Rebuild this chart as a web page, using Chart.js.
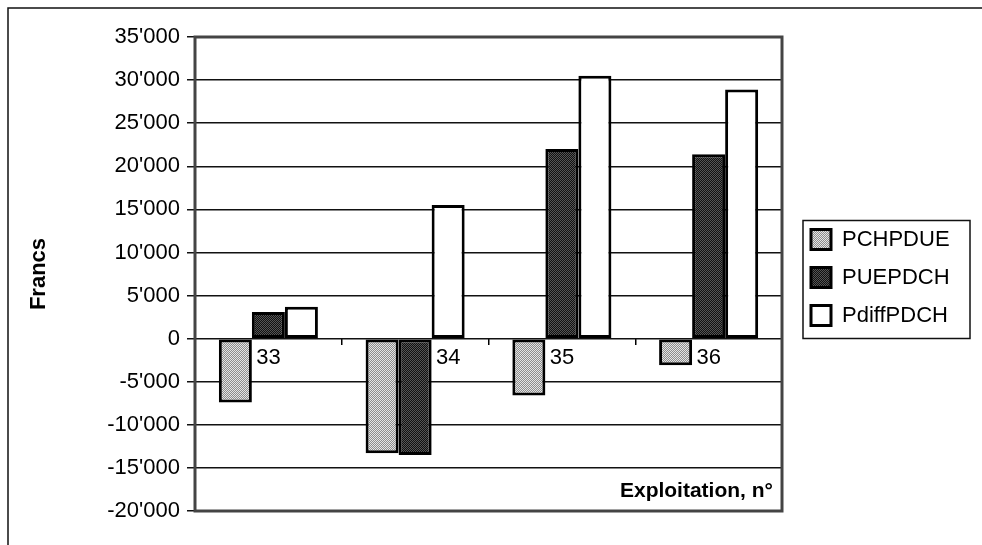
<!DOCTYPE html>
<html>
<head>
<meta charset="utf-8">
<script src="https://cdn.jsdelivr.net/npm/chart.js@4.4.1/dist/chart.umd.min.js"></script>
<style>
  body { margin: 0; background: #fff; }
  #wrap { width: 982px; height: 545px; position: relative; }
</style>
</head>
<body>
<div id="wrap"><canvas id="chart"></canvas></div>
<script>
// data
const categories = ['33', '34', '35', '36'];
const pchpdue = [-7400, -13300, -6600, -3100];
const puepdch = [3100, -13500, 22000, 21400];
const pdiffpdch = [3700, 15500, 30500, 28900];
const seriesNames = ['PCHPDUE', 'PUEPDCH', 'PdiffPDCH'];

const FONT = "'Liberation Sans', Arial, sans-serif";

// little 2x2 dither tiles, like the old printer fills
function dither(a, b) {
  const c = document.createElement('canvas');
  c.width = 2; c.height = 2;
  const g = c.getContext('2d');
  g.fillStyle = a; g.fillRect(0, 0, 2, 2);
  g.fillStyle = b; g.fillRect(0, 0, 1, 1); g.fillRect(1, 1, 1, 1);
  return g.createPattern(c, 'repeat');
}

function swiss(v) {
  const s = Math.abs(v).toString().replace(/\B(?=(\d{3})+(?!\d))/g, "'");
  return (v < 0 ? '-' : '') + s;
}

// legend is forced to a fixed width and nudged, then boxed
const legendFit = {
  id: 'legendFit',
  beforeLayout(chart) {
    const lg = chart.legend;
    if (lg && !lg._fixed) {
      const orig = lg.fit;
      lg.fit = function () { orig.call(this); this.width = 200; };
      lg._fixed = true;
    }
  },
  afterLayout(chart) {
    chart.legend.left += 13;
    chart.legend.top += 7;
  },
  afterDraw(chart) {
    const hb = chart.legend.legendHitBoxes;
    if (!hb || !hb.length) return;
    const ctx = chart.ctx;
    const l = Math.min(...hb.map(h => h.left)) - 8;
    const t = Math.min(...hb.map(h => h.top)) - 8;
    const r = Math.min(chart.width - 12, Math.max(...hb.map(h => h.left + h.width)) + 22);
    const b = Math.max(...hb.map(h => h.top + h.height)) + 12;
    ctx.save();
    ctx.strokeStyle = '#111';
    ctx.lineWidth = 1.5;
    ctx.strokeRect(l, t, r - l, b - t);
    ctx.restore();
  }
};

// plot frame, outer frame, category numbers and the x title
const decor = {
  id: 'decor',
  afterDatasetsDraw(chart) {
    const { ctx, chartArea: ca } = chart;
    const y0 = chart.scales.y.getPixelForValue(0);
    ctx.save();
    // category numbers sit under the first non-negative bar after the first
    ctx.font = '22px ' + FONT;
    ctx.fillStyle = '#000';
    ctx.textAlign = 'center';
    ctx.textBaseline = 'middle';
    categories.forEach((lab, i) => {
      const ds = puepdch[i] >= 0 ? 1 : 2;
      const el = chart.getDatasetMeta(ds).data[i];
      ctx.fillText(lab, el.x, y0 + 19);
    });
    // x axis title inside the plot, bottom right
    ctx.font = 'bold 21px ' + FONT;
    ctx.textAlign = 'right';
    ctx.textBaseline = 'alphabetic';
    ctx.fillText('Exploitation, n°', ca.right - 9, ca.bottom - 14);
    // plot area frame
    ctx.strokeStyle = '#444';
    ctx.lineWidth = 3;
    ctx.strokeRect(ca.left, ca.top, ca.right - ca.left, ca.bottom - ca.top);
    // outer chart frame (top and left only visible)
    ctx.strokeStyle = '#111';
    ctx.lineWidth = 1.5;
    ctx.beginPath();
    ctx.moveTo(8, chart.height);
    ctx.lineTo(8, 8);
    ctx.lineTo(chart.width, 8);
    ctx.stroke();
    ctx.restore();
  }
};

const lightFill = dither('#8c8c8c', '#e4e4e4');
const darkFill = dither('#111111', '#555555');

new Chart(document.getElementById('chart'), {
  type: 'bar',
  data: {
    labels: categories,
    datasets: [
      { label: seriesNames[0], data: pchpdue, backgroundColor: lightFill, borderColor: '#000', borderWidth: 3, borderSkipped: false },
      { label: seriesNames[1], data: puepdch, backgroundColor: darkFill, borderColor: '#000', borderWidth: 3, borderSkipped: false },
      { label: seriesNames[2], data: pdiffpdch, backgroundColor: '#fff', borderColor: '#000', borderWidth: 3, borderSkipped: false }
    ]
  },
  options: {
    responsive: true,
    maintainAspectRatio: false,
    animation: false,
    layout: { padding: { top: 37, bottom: 34, left: 0, right: 0 } },
    datasets: { bar: { categoryPercentage: 0.675, barPercentage: 1 } },
    scales: {
      x: {
        position: { y: 0 },
        grid: { display: true, offset: true, drawOnChartArea: false, drawTicks: true, tickLength: 6, color: '#000', lineWidth: 1.5 },
        border: { display: false },
        ticks: { display: false }
      },
      y: {
        min: -20000,
        max: 35000,
        afterFit(scale) { scale.width = 195; },
        ticks: {
          stepSize: 5000,
          color: '#000',
          padding: 7,
          font: { family: FONT, size: 22 },
          callback: v => swiss(v)
        },
        grid: { color: '#111', lineWidth: 1.5, tickLength: 8 },
        border: { display: false },
        title: {
          display: true,
          text: 'Francs',
          color: '#000',
          font: { family: FONT, size: 22, weight: 'bold' },
          padding: { top: 26, bottom: 0 }
        }
      }
    },
    plugins: {
      legend: {
        position: 'right',
        align: 'center',
        labels: {
          color: '#000',
          boxWidth: 20,
          boxHeight: 20,
          padding: 16,
          font: { family: FONT, size: 22 }
        }
      },
      tooltip: { enabled: false }
    }
  },
  plugins: [legendFit, decor]
});
</script>
</body>
</html>
